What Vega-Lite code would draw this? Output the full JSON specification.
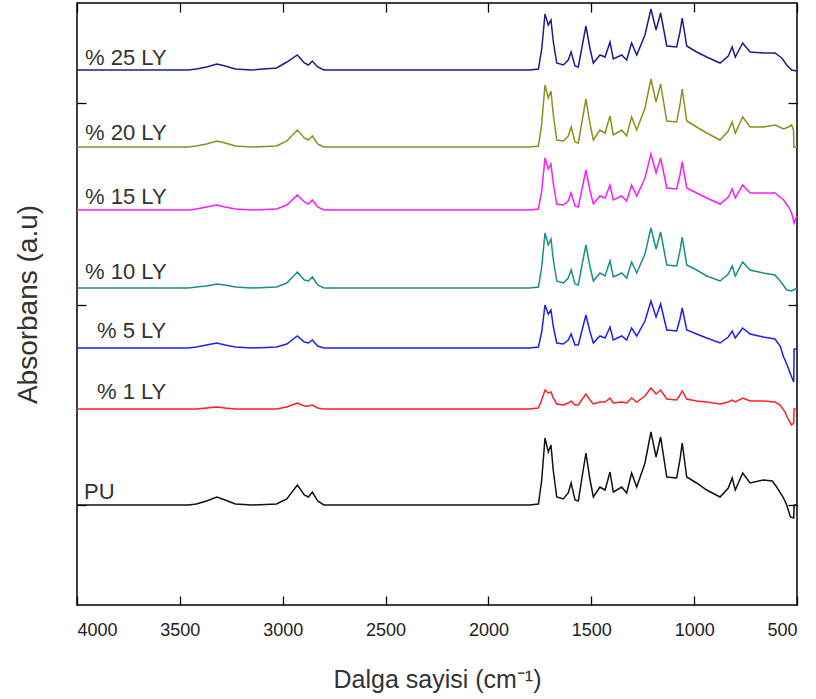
{
"$schema": "https://vega.github.io/schema/vega-lite/v6.json",
"width": 720,
"height": 602,
"autosize": {"type": "none"},
"padding": {"left": 77, "top": 3, "right": 19, "bottom": 94},
"background": "white",
"config": {
  "view": {"stroke": "#000", "strokeWidth": 1.5},
  "font": "Liberation Sans",
  "axis": {"grid": false, "domain": false, "tickColor": "#000", "tickWidth": 1.3, "tickSize": -9}
},
"layer": [
{
"data": {"values": [
{"s":"PU","x":4000,"y":1.00},{"s":"PU","x":3460,"y":1.00},{"s":"PU","x":3420,"y":1.01},{"s":"PU","x":3370,"y":1.04},{"s":"PU","x":3320,"y":1.08},{"s":"PU","x":3280,"y":1.05},{"s":"PU","x":3230,"y":1.01},{"s":"PU","x":3150,"y":1.00},{"s":"PU","x":3030,"y":1.01},{"s":"PU","x":2980,"y":1.06},{"s":"PU","x":2929,"y":1.20},{"s":"PU","x":2895,"y":1.10},{"s":"PU","x":2875,"y":1.08},{"s":"PU","x":2856,"y":1.13},{"s":"PU","x":2830,"y":1.04},{"s":"PU","x":2800,"y":1.00},
{"s":"PU","x":1800,"y":1.00},{"s":"PU","x":1757,"y":1.01},{"s":"PU","x":1741,"y":1.25},{"s":"PU","x":1725,"y":1.67},{"s":"PU","x":1709,"y":1.53},{"s":"PU","x":1696,"y":1.60},{"s":"PU","x":1685,"y":1.35},{"s":"PU","x":1668,"y":1.08},{"s":"PU","x":1636,"y":1.06},{"s":"PU","x":1612,"y":1.12},{"s":"PU","x":1598,"y":1.22},{"s":"PU","x":1579,"y":1.05},{"s":"PU","x":1563,"y":1.04},{"s":"PU","x":1547,"y":1.25},{"s":"PU","x":1526,"y":1.52},{"s":"PU","x":1506,"y":1.25},{"s":"PU","x":1490,"y":1.08},{"s":"PU","x":1458,"y":1.18},{"s":"PU","x":1433,"y":1.15},{"s":"PU","x":1409,"y":1.33},{"s":"PU","x":1393,"y":1.13},{"s":"PU","x":1352,"y":1.18},{"s":"PU","x":1328,"y":1.12},{"s":"PU","x":1304,"y":1.32},{"s":"PU","x":1279,"y":1.18},{"s":"PU","x":1239,"y":1.42},{"s":"PU","x":1210,"y":1.73},{"s":"PU","x":1185,"y":1.48},{"s":"PU","x":1163,"y":1.68},{"s":"PU","x":1133,"y":1.28},{"s":"PU","x":1085,"y":1.27},{"s":"PU","x":1069,"y":1.45},{"s":"PU","x":1058,"y":1.62},{"s":"PU","x":1036,"y":1.28},{"s":"PU","x":988,"y":1.22},{"s":"PU","x":939,"y":1.15},{"s":"PU","x":874,"y":1.08},{"s":"PU","x":834,"y":1.17},{"s":"PU","x":815,"y":1.27},{"s":"PU","x":800,"y":1.15},{"s":"PU","x":764,"y":1.32},{"s":"PU","x":728,"y":1.22},
{"s":"PU","x":664,"y":1.25},{"s":"PU","x":620,"y":1.24},{"s":"PU","x":599,"y":1.18},{"s":"PU","x":568,"y":1.08},{"s":"PU","x":550,"y":1.00},{"s":"PU","x":532,"y":0.88},{"s":"PU","x":516,"y":0.87},{"s":"PU","x":514,"y":1.00},{"s":"PU","x":500,"y":1.00},

{"s":"25","x":4000,"y":5.35},{"s":"25","x":3460,"y":5.35},{"s":"25","x":3420,"y":5.36},{"s":"25","x":3370,"y":5.38},{"s":"25","x":3320,"y":5.41},{"s":"25","x":3280,"y":5.39},{"s":"25","x":3230,"y":5.36},{"s":"25","x":3150,"y":5.35},{"s":"25","x":3030,"y":5.37},{"s":"25","x":2980,"y":5.43},{"s":"25","x":2929,"y":5.50},{"s":"25","x":2895,"y":5.42},{"s":"25","x":2875,"y":5.40},{"s":"25","x":2856,"y":5.44},{"s":"25","x":2830,"y":5.38},{"s":"25","x":2800,"y":5.35},
{"s":"25","x":1800,"y":5.35},{"s":"25","x":1757,"y":5.36},{"s":"25","x":1741,"y":5.56},{"s":"25","x":1725,"y":5.91},{"s":"25","x":1709,"y":5.80},{"s":"25","x":1696,"y":5.85},{"s":"25","x":1685,"y":5.64},{"s":"25","x":1668,"y":5.42},{"s":"25","x":1636,"y":5.40},{"s":"25","x":1612,"y":5.45},{"s":"25","x":1598,"y":5.53},{"s":"25","x":1579,"y":5.39},{"s":"25","x":1563,"y":5.38},{"s":"25","x":1547,"y":5.56},{"s":"25","x":1526,"y":5.79},{"s":"25","x":1506,"y":5.56},{"s":"25","x":1490,"y":5.42},{"s":"25","x":1458,"y":5.50},{"s":"25","x":1433,"y":5.48},{"s":"25","x":1409,"y":5.63},{"s":"25","x":1393,"y":5.46},{"s":"25","x":1352,"y":5.50},{"s":"25","x":1328,"y":5.45},{"s":"25","x":1304,"y":5.62},{"s":"25","x":1279,"y":5.50},{"s":"25","x":1239,"y":5.70},{"s":"25","x":1210,"y":5.96},{"s":"25","x":1185,"y":5.75},{"s":"25","x":1163,"y":5.92},{"s":"25","x":1133,"y":5.59},{"s":"25","x":1085,"y":5.58},{"s":"25","x":1069,"y":5.73},{"s":"25","x":1058,"y":5.87},{"s":"25","x":1036,"y":5.59},{"s":"25","x":988,"y":5.53},{"s":"25","x":939,"y":5.48},{"s":"25","x":874,"y":5.42},{"s":"25","x":834,"y":5.49},{"s":"25","x":815,"y":5.58},{"s":"25","x":800,"y":5.48},{"s":"25","x":764,"y":5.62},{"s":"25","x":728,"y":5.53},
{"s":"25","x":664,"y":5.52},{"s":"25","x":607,"y":5.52},{"s":"25","x":574,"y":5.47},{"s":"25","x":550,"y":5.40},{"s":"25","x":526,"y":5.35},{"s":"25","x":500,"y":5.34},

{"s":"20","x":4000,"y":4.58},{"s":"20","x":3460,"y":4.58},{"s":"20","x":3420,"y":4.59},{"s":"20","x":3370,"y":4.61},{"s":"20","x":3320,"y":4.64},{"s":"20","x":3280,"y":4.62},{"s":"20","x":3230,"y":4.59},{"s":"20","x":3150,"y":4.58},{"s":"20","x":3030,"y":4.59},{"s":"20","x":2980,"y":4.64},{"s":"20","x":2929,"y":4.75},{"s":"20","x":2895,"y":4.67},{"s":"20","x":2875,"y":4.65},{"s":"20","x":2856,"y":4.69},{"s":"20","x":2830,"y":4.61},{"s":"20","x":2800,"y":4.58},
{"s":"20","x":1800,"y":4.58},{"s":"20","x":1757,"y":4.59},{"s":"20","x":1741,"y":4.81},{"s":"20","x":1725,"y":5.20},{"s":"20","x":1709,"y":5.07},{"s":"20","x":1696,"y":5.14},{"s":"20","x":1685,"y":4.91},{"s":"20","x":1668,"y":4.65},{"s":"20","x":1636,"y":4.64},{"s":"20","x":1612,"y":4.69},{"s":"20","x":1598,"y":4.78},{"s":"20","x":1579,"y":4.63},{"s":"20","x":1563,"y":4.62},{"s":"20","x":1547,"y":4.81},{"s":"20","x":1526,"y":5.06},{"s":"20","x":1506,"y":4.81},{"s":"20","x":1490,"y":4.65},{"s":"20","x":1458,"y":4.75},{"s":"20","x":1433,"y":4.72},{"s":"20","x":1409,"y":4.89},{"s":"20","x":1393,"y":4.70},{"s":"20","x":1352,"y":4.75},{"s":"20","x":1328,"y":4.69},{"s":"20","x":1304,"y":4.88},{"s":"20","x":1279,"y":4.75},{"s":"20","x":1239,"y":4.97},{"s":"20","x":1210,"y":5.26},{"s":"20","x":1185,"y":5.03},{"s":"20","x":1163,"y":5.21},{"s":"20","x":1133,"y":4.84},{"s":"20","x":1085,"y":4.83},{"s":"20","x":1069,"y":5.00},{"s":"20","x":1058,"y":5.16},{"s":"20","x":1036,"y":4.84},{"s":"20","x":988,"y":4.78},{"s":"20","x":939,"y":4.72},{"s":"20","x":874,"y":4.65},{"s":"20","x":834,"y":4.74},{"s":"20","x":815,"y":4.83},{"s":"20","x":800,"y":4.72},{"s":"20","x":764,"y":4.88},{"s":"20","x":728,"y":4.78},
{"s":"20","x":664,"y":4.78},{"s":"20","x":607,"y":4.80},{"s":"20","x":565,"y":4.76},{"s":"20","x":541,"y":4.78},{"s":"20","x":526,"y":4.80},{"s":"20","x":517,"y":4.75},{"s":"20","x":515,"y":4.58},{"s":"20","x":500,"y":4.58},

{"s":"15","x":4000,"y":3.95},{"s":"15","x":3460,"y":3.95},{"s":"15","x":3420,"y":3.96},{"s":"15","x":3370,"y":3.98},{"s":"15","x":3320,"y":4.00},{"s":"15","x":3280,"y":3.98},{"s":"15","x":3230,"y":3.96},{"s":"15","x":3150,"y":3.95},{"s":"15","x":3030,"y":3.96},{"s":"15","x":2980,"y":4.00},{"s":"15","x":2929,"y":4.10},{"s":"15","x":2895,"y":4.03},{"s":"15","x":2875,"y":4.01},{"s":"15","x":2856,"y":4.05},{"s":"15","x":2830,"y":3.98},{"s":"15","x":2800,"y":3.95},
{"s":"15","x":1800,"y":3.95},{"s":"15","x":1757,"y":3.96},{"s":"15","x":1741,"y":4.14},{"s":"15","x":1725,"y":4.47},{"s":"15","x":1709,"y":4.36},{"s":"15","x":1696,"y":4.41},{"s":"15","x":1685,"y":4.22},{"s":"15","x":1668,"y":4.01},{"s":"15","x":1636,"y":4.00},{"s":"15","x":1612,"y":4.04},{"s":"15","x":1598,"y":4.12},{"s":"15","x":1579,"y":3.99},{"s":"15","x":1563,"y":3.98},{"s":"15","x":1547,"y":4.14},{"s":"15","x":1526,"y":4.35},{"s":"15","x":1506,"y":4.14},{"s":"15","x":1490,"y":4.01},{"s":"15","x":1458,"y":4.09},{"s":"15","x":1433,"y":4.07},{"s":"15","x":1409,"y":4.20},{"s":"15","x":1393,"y":4.05},{"s":"15","x":1352,"y":4.09},{"s":"15","x":1328,"y":4.04},{"s":"15","x":1304,"y":4.20},{"s":"15","x":1279,"y":4.09},{"s":"15","x":1239,"y":4.27},{"s":"15","x":1210,"y":4.51},{"s":"15","x":1185,"y":4.32},{"s":"15","x":1163,"y":4.47},{"s":"15","x":1133,"y":4.17},{"s":"15","x":1085,"y":4.16},{"s":"15","x":1069,"y":4.30},{"s":"15","x":1058,"y":4.43},{"s":"15","x":1036,"y":4.17},{"s":"15","x":988,"y":4.12},{"s":"15","x":939,"y":4.07},{"s":"15","x":874,"y":4.01},{"s":"15","x":834,"y":4.08},{"s":"15","x":815,"y":4.16},{"s":"15","x":800,"y":4.07},{"s":"15","x":764,"y":4.20},{"s":"15","x":728,"y":4.12},
{"s":"15","x":664,"y":4.12},{"s":"15","x":607,"y":4.12},{"s":"15","x":565,"y":4.05},{"s":"15","x":541,"y":3.98},{"s":"15","x":526,"y":3.92},{"s":"15","x":514,"y":3.82},{"s":"15","x":505,"y":3.87},{"s":"15","x":500,"y":3.89},

{"s":"10","x":4000,"y":3.17},{"s":"10","x":3460,"y":3.17},{"s":"10","x":3420,"y":3.18},{"s":"10","x":3370,"y":3.19},{"s":"10","x":3320,"y":3.21},{"s":"10","x":3280,"y":3.20},{"s":"10","x":3230,"y":3.18},{"s":"10","x":3150,"y":3.17},{"s":"10","x":3030,"y":3.18},{"s":"10","x":2980,"y":3.22},{"s":"10","x":2929,"y":3.33},{"s":"10","x":2895,"y":3.25},{"s":"10","x":2875,"y":3.24},{"s":"10","x":2856,"y":3.28},{"s":"10","x":2830,"y":3.20},{"s":"10","x":2800,"y":3.17},
{"s":"10","x":1800,"y":3.17},{"s":"10","x":1757,"y":3.18},{"s":"10","x":1741,"y":3.38},{"s":"10","x":1725,"y":3.72},{"s":"10","x":1709,"y":3.60},{"s":"10","x":1696,"y":3.66},{"s":"10","x":1685,"y":3.46},{"s":"10","x":1668,"y":3.24},{"s":"10","x":1636,"y":3.22},{"s":"10","x":1612,"y":3.27},{"s":"10","x":1598,"y":3.35},{"s":"10","x":1579,"y":3.21},{"s":"10","x":1563,"y":3.20},{"s":"10","x":1547,"y":3.38},{"s":"10","x":1526,"y":3.60},{"s":"10","x":1506,"y":3.38},{"s":"10","x":1490,"y":3.24},{"s":"10","x":1458,"y":3.32},{"s":"10","x":1433,"y":3.29},{"s":"10","x":1409,"y":3.44},{"s":"10","x":1393,"y":3.28},{"s":"10","x":1352,"y":3.32},{"s":"10","x":1328,"y":3.27},{"s":"10","x":1304,"y":3.43},{"s":"10","x":1279,"y":3.32},{"s":"10","x":1239,"y":3.51},{"s":"10","x":1210,"y":3.77},{"s":"10","x":1185,"y":3.56},{"s":"10","x":1163,"y":3.73},{"s":"10","x":1133,"y":3.40},{"s":"10","x":1085,"y":3.39},{"s":"10","x":1069,"y":3.54},{"s":"10","x":1058,"y":3.68},{"s":"10","x":1036,"y":3.40},{"s":"10","x":988,"y":3.35},{"s":"10","x":939,"y":3.29},{"s":"10","x":874,"y":3.24},{"s":"10","x":834,"y":3.31},{"s":"10","x":815,"y":3.39},{"s":"10","x":800,"y":3.29},{"s":"10","x":764,"y":3.43},{"s":"10","x":728,"y":3.35},
{"s":"10","x":664,"y":3.32},{"s":"10","x":607,"y":3.30},{"s":"10","x":574,"y":3.22},{"s":"10","x":550,"y":3.15},{"s":"10","x":526,"y":3.14},{"s":"10","x":500,"y":3.17},

{"s":"5","x":4000,"y":2.57},{"s":"5","x":3460,"y":2.57},{"s":"5","x":3420,"y":2.58},{"s":"5","x":3370,"y":2.60},{"s":"5","x":3320,"y":2.62},{"s":"5","x":3280,"y":2.60},{"s":"5","x":3230,"y":2.58},{"s":"5","x":3150,"y":2.57},{"s":"5","x":3030,"y":2.58},{"s":"5","x":2980,"y":2.61},{"s":"5","x":2929,"y":2.69},{"s":"5","x":2895,"y":2.63},{"s":"5","x":2875,"y":2.62},{"s":"5","x":2856,"y":2.65},{"s":"5","x":2830,"y":2.59},{"s":"5","x":2800,"y":2.57},
{"s":"5","x":1800,"y":2.57},{"s":"5","x":1757,"y":2.58},{"s":"5","x":1741,"y":2.73},{"s":"5","x":1725,"y":3.00},{"s":"5","x":1709,"y":2.91},{"s":"5","x":1696,"y":2.95},{"s":"5","x":1685,"y":2.79},{"s":"5","x":1668,"y":2.62},{"s":"5","x":1636,"y":2.61},{"s":"5","x":1612,"y":2.65},{"s":"5","x":1598,"y":2.71},{"s":"5","x":1579,"y":2.60},{"s":"5","x":1563,"y":2.60},{"s":"5","x":1547,"y":2.73},{"s":"5","x":1526,"y":2.90},{"s":"5","x":1506,"y":2.73},{"s":"5","x":1490,"y":2.62},{"s":"5","x":1458,"y":2.69},{"s":"5","x":1433,"y":2.67},{"s":"5","x":1409,"y":2.78},{"s":"5","x":1393,"y":2.65},{"s":"5","x":1352,"y":2.69},{"s":"5","x":1328,"y":2.65},{"s":"5","x":1304,"y":2.77},{"s":"5","x":1279,"y":2.69},{"s":"5","x":1239,"y":2.84},{"s":"5","x":1210,"y":3.04},{"s":"5","x":1185,"y":2.88},{"s":"5","x":1163,"y":3.01},{"s":"5","x":1133,"y":2.75},{"s":"5","x":1085,"y":2.74},{"s":"5","x":1069,"y":2.86},{"s":"5","x":1058,"y":2.97},{"s":"5","x":1036,"y":2.75},{"s":"5","x":988,"y":2.71},{"s":"5","x":939,"y":2.67},{"s":"5","x":874,"y":2.62},{"s":"5","x":834,"y":2.68},{"s":"5","x":815,"y":2.74},{"s":"5","x":800,"y":2.67},{"s":"5","x":764,"y":2.77},{"s":"5","x":728,"y":2.71},
{"s":"5","x":664,"y":2.68},{"s":"5","x":607,"y":2.66},{"s":"5","x":582,"y":2.59},{"s":"5","x":565,"y":2.48},{"s":"5","x":550,"y":2.41},{"s":"5","x":526,"y":2.28},{"s":"5","x":516,"y":2.23},{"s":"5","x":514,"y":2.56},{"s":"5","x":500,"y":2.56},

{"s":"1","x":4000,"y":1.96},{"s":"1","x":3460,"y":1.96},{"s":"1","x":3420,"y":1.96},{"s":"1","x":3370,"y":1.97},{"s":"1","x":3320,"y":1.98},{"s":"1","x":3280,"y":1.97},{"s":"1","x":3230,"y":1.96},{"s":"1","x":3150,"y":1.96},{"s":"1","x":3030,"y":1.96},{"s":"1","x":2980,"y":1.98},{"s":"1","x":2929,"y":2.02},{"s":"1","x":2895,"y":1.99},{"s":"1","x":2875,"y":1.99},{"s":"1","x":2856,"y":2.00},{"s":"1","x":2830,"y":1.97},{"s":"1","x":2800,"y":1.96},
{"s":"1","x":1800,"y":1.96},{"s":"1","x":1757,"y":1.97},{"s":"1","x":1741,"y":2.05},{"s":"1","x":1725,"y":2.15},{"s":"1","x":1709,"y":2.12},{"s":"1","x":1696,"y":2.13},{"s":"1","x":1685,"y":2.07},{"s":"1","x":1668,"y":2.01},{"s":"1","x":1636,"y":2.00},{"s":"1","x":1612,"y":2.02},{"s":"1","x":1598,"y":2.04},{"s":"1","x":1579,"y":2.00},{"s":"1","x":1563,"y":2.00},{"s":"1","x":1547,"y":2.05},{"s":"1","x":1526,"y":2.11},{"s":"1","x":1506,"y":2.05},{"s":"1","x":1490,"y":2.01},{"s":"1","x":1458,"y":2.03},{"s":"1","x":1433,"y":2.03},{"s":"1","x":1409,"y":2.07},{"s":"1","x":1393,"y":2.02},{"s":"1","x":1352,"y":2.03},{"s":"1","x":1328,"y":2.02},{"s":"1","x":1304,"y":2.07},{"s":"1","x":1279,"y":2.03},{"s":"1","x":1239,"y":2.09},{"s":"1","x":1210,"y":2.17},{"s":"1","x":1185,"y":2.11},{"s":"1","x":1163,"y":2.15},{"s":"1","x":1133,"y":2.06},{"s":"1","x":1085,"y":2.05},{"s":"1","x":1069,"y":2.10},{"s":"1","x":1058,"y":2.14},{"s":"1","x":1036,"y":2.06},{"s":"1","x":988,"y":2.04},{"s":"1","x":939,"y":2.03},{"s":"1","x":874,"y":2.01},{"s":"1","x":834,"y":2.03},{"s":"1","x":815,"y":2.05},{"s":"1","x":800,"y":2.03},{"s":"1","x":764,"y":2.07},{"s":"1","x":728,"y":2.04},
{"s":"1","x":664,"y":2.04},{"s":"1","x":607,"y":2.03},{"s":"1","x":582,"y":2.00},{"s":"1","x":558,"y":1.93},{"s":"1","x":541,"y":1.85},{"s":"1","x":526,"y":1.80},{"s":"1","x":516,"y":1.82},{"s":"1","x":514,"y":1.96},{"s":"1","x":500,"y":1.96}
]},
"mark": {"type": "line", "strokeWidth": 1.5},
"encoding": {
  "x": {"field": "x", "type": "quantitative",
        "scale": {"domain": [500, 4000], "reverse": true, "nice": false, "zero": false},
        "axis": {"orient": "bottom", "values": [4000, 3500, 3000, 2500, 2000, 1500, 1000, 500], "format": "d", "labelFontSize": 18, "labelColor": "#222", "labelPadding": 25, "title": "Dalga sayisi (cm⁻¹)", "titleFontSize": 25, "titleFontWeight": "normal", "titleColor": "#333", "titlePadding": 28}},
  "y": {"field": "y", "type": "quantitative",
        "scale": {"domain": [0, 6.02], "nice": false, "zero": false},
        "axis": {"orient": "left", "values": [1, 3, 5.02], "labels": false, "title": "Absorbans (a.u)", "titleFontSize": 28, "titleFontWeight": "normal", "titleColor": "#333", "titlePadding": 34}},
  "color": {"field": "s", "type": "nominal",
            "scale": {"domain": ["PU", "1", "5", "10", "15", "20", "25"], "range": ["#111111", "#ff2020", "#1f1ff0", "#1c8c8c", "#f81cf8", "#8f8f1f", "#1c1c8c"]},
            "legend": null}
}
},
{
"data": {"values": [
{"t":"% 25 LY","x":3961,"y":5.47},
{"t":"% 20 LY","x":3961,"y":4.72},
{"t":"% 15 LY","x":3961,"y":4.08},
{"t":"% 10 LY","x":3961,"y":3.33},
{"t":"% 5 LY","x":3903,"y":2.74},
{"t":"% 1 LY","x":3903,"y":2.13},
{"t":"PU","x":3966,"y":1.13}
]},
"mark": {"type": "text", "align": "left", "baseline": "middle", "fontSize": 22, "color": "#333"},
"encoding": {
  "x": {"field": "x", "type": "quantitative", "axis": {"orient": "top", "labels": false, "title": null, "values": [4000, 3500, 3000, 2500, 2000, 1500, 1000, 500]}},
  "y": {"field": "y", "type": "quantitative", "axis": {"orient": "right", "labels": false, "title": null, "values": [1, 3, 5.02]}},
  "text": {"field": "t"}
}
}
],
"resolve": {"axis": {"x": "independent", "y": "independent"}}
}
